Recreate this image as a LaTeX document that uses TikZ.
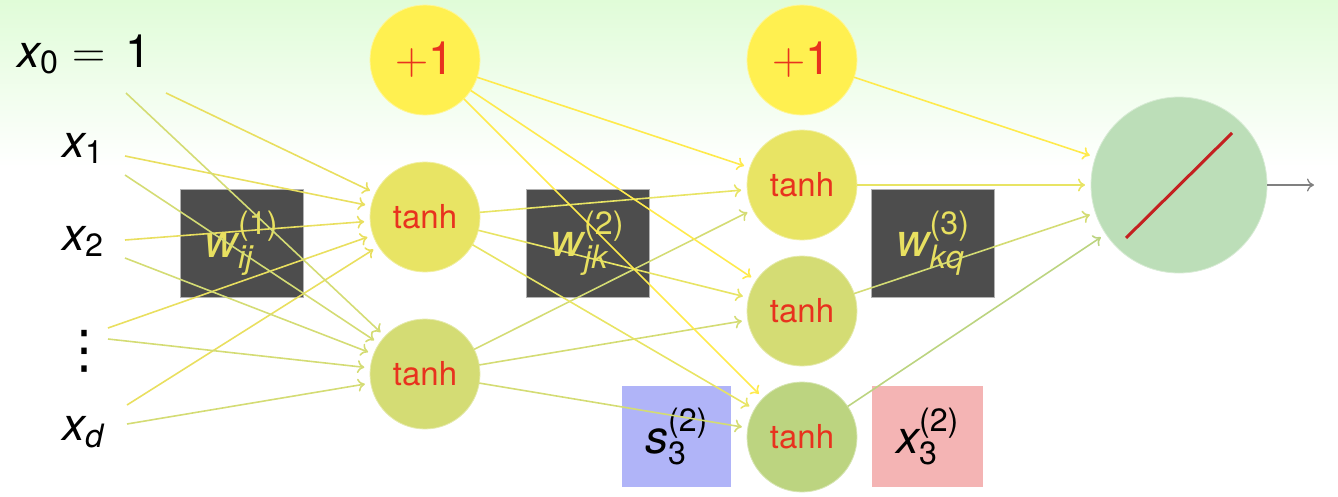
\documentclass[tikz,border=0pt]{standalone}
\usepackage{amsmath}
\DeclareFontFamily{OML}{cmmx}{\skewchar\font'177}
\DeclareFontShape{OML}{cmmx}{m}{it}{<->cmmi10}{}
\DeclareFontFamily{OMS}{cmsyx}{\skewchar\font'60}
\DeclareFontShape{OMS}{cmsyx}{m}{n}{<->cmsy10}{}
\DeclareSymbolFont{letters}{OML}{cmmx}{m}{it}
\DeclareSymbolFont{symbols}{OMS}{cmsyx}{m}{n}
\usepackage{fontspec}
\setmainfont{TeX Gyre Heros}
\newfontfamily\lmfont{Latin Modern Roman}
\newfontfamily\dvfont{DejaVu Sans}
\usetikzlibrary{arrows.meta}
\definecolor{bgtop}{HTML}{E0FCD8}
\definecolor{onec}{HTML}{FFF050}
\definecolor{ta}{HTML}{E8E464}
\definecolor{tb}{HTML}{D4DC74}
\definecolor{tc}{HTML}{BCD480}
\definecolor{outc}{HTML}{BCDEB8}
\definecolor{redt}{HTML}{E8321E}
\definecolor{redl}{HTML}{C42020}
\definecolor{boxd}{HTML}{4D4D4D}
\definecolor{wtxt}{HTML}{E8E060}
\definecolor{sbox}{HTML}{B0B4F8}
\definecolor{xbox}{HTML}{F4B4B4}
\newcommand\biglab{\fontsize{46}{50}\selectfont}
\newcommand\midlab{\fontsize{33}{36}\selectfont}
\begin{document}
\begin{tikzpicture}[x=1pt,y=-1pt,
  neuron/.style={circle, minimum size=110pt, inner sep=0pt, outer sep=0pt, text=redt, font=\midlab},
  bias/.style={neuron, fill=onec, draw=onec!60!white, line width=0.8pt, font=\biglab},
  tnha/.style={neuron, fill=ta, draw=ta!60!white, line width=0.8pt},
  tnhb/.style={neuron, fill=tb, draw=tb!60!white, line width=0.8pt},
  tnhc/.style={neuron, fill=tc, draw=tc!60!white, line width=0.8pt},
  wbox/.style={rectangle, fill=boxd, draw=gray!60, line width=0.8pt, minimum width=123pt, minimum height=108pt, inner sep=0pt, text=wtxt, font=\biglab},
  cbox/.style={rectangle, minimum width=110pt, minimum height=101pt, inner sep=0pt, text=black, font=\biglab},
  inlab/.style={anchor=base west, inner sep=0pt, font=\biglab},
  conn/.style={line width=1.6pt, -{To[length=7pt,width=13pt]}, shorten >=6pt},
]
% background
\shade[top color=bgtop, bottom color=white] (0,0) rectangle (1338,167);
\path[use as bounding box] (0,0) rectangle (1338,496);

% weight boxes
\node[wbox] (w1) at (241.5,243) {$\text{\itshape w}_{\text{\itshape ij}}^{\text{(1)}}$};
\node[wbox] (w2) at (587.5,243) {$\text{\itshape w}_{\text{\itshape jk}}^{\text{(2)}}$};
\node[wbox] (w3) at (933,243) {$\text{\itshape w}_{\text{\itshape kq}}^{\text{(3)}}$};
\node[cbox, fill=sbox, minimum width=109pt] (s3) at (676.5,436.5) {$\text{\itshape s}_{\text{3}}^{\text{(2)}}$};
\node[cbox, fill=xbox, minimum width=111pt] (x3) at (927.5,436.5) {$\text{\itshape x}_{\text{3}}^{\text{(2)}}$};

% inputs
\node[inlab] (x0) at (17,67) {$\text{\itshape x}_{\text{0}}$\hspace{14pt}{\lmfont =}\hspace{20pt}1};
\node[inlab] (x1) at (62,157) {$\text{\itshape x}_{\text{1}}$};
\node[inlab] (x2) at (62,250) {$\text{\itshape x}_{\text{2}}$};
\node[inner sep=0pt, font=\dvfont\fontsize{52}{56}\selectfont] (xv) at (84,351) {⋮};
\node[inlab] (xd) at (62,440) {$\text{\itshape x}_{\text{\itshape d}}$};

% neurons
\node[bias] (b1) at (425,60) {{\lmfont +}1};
\node[tnha] (h1) at (425,217) {tanh};
\node[tnhb] (h2) at (425,374) {tanh};
\node[bias] (b2) at (802,60) {{\lmfont +}1};
\node[tnha] (t1) at (802,185) {tanh};
\node[tnhb] (t2) at (802,311) {tanh};
\node[tnhc] (t3) at (802,437) {tanh};
\node[circle, fill=outc, draw=outc!60!white, line width=0.8pt, minimum size=176pt, inner sep=0pt, outer sep=0pt] (out) at (1179,185) {};
\draw[redl, line width=3pt] ([shift={(-53,53)}]out.center) -- ([shift={(53,-52)}]out.center);
\coordinate (oend) at (1314,185);
\draw[gray, line width=1.3pt, -{To[length=7pt,width=13pt]}] (out) -- (oend);

% input arrow starts
\coordinate (s0b) at (126,93);
\coordinate (s0a) at (166,93);
\coordinate (s1a) at (125,156);
\coordinate (s1b) at (125,175);
\coordinate (s2a) at (125,240);
\coordinate (s2b) at (125,258);
\coordinate (sva) at (108,328);
\coordinate (svb) at (108,339);
\coordinate (sda) at (127,405);
\coordinate (sdb) at (127,424);

% layer 1 connections
\foreach \s in {s0a,s1a,s2a,sva,sda} \draw[conn, ta!95!orange] (\s) -- (h1);
\foreach \s in {s0b,s1b,s2b,svb,sdb} \draw[conn, tb] (\s) -- (h2);

% layer 2 connections
\foreach \t in {t1,t2,t3} {
  \draw[conn, onec!95!orange] (b1) -- (\t);
  \draw[conn, ta] (h1) -- (\t);
  \draw[conn, tb] (h2) -- (\t);
}

% layer 3 connections
\draw[conn, onec!95!orange] (b2) -- (out);
\draw[conn, ta] (t1) -- (out);
\draw[conn, tb] (t2) -- (out);
\draw[conn, tc] (t3) -- (out);
\end{tikzpicture}
\end{document}
